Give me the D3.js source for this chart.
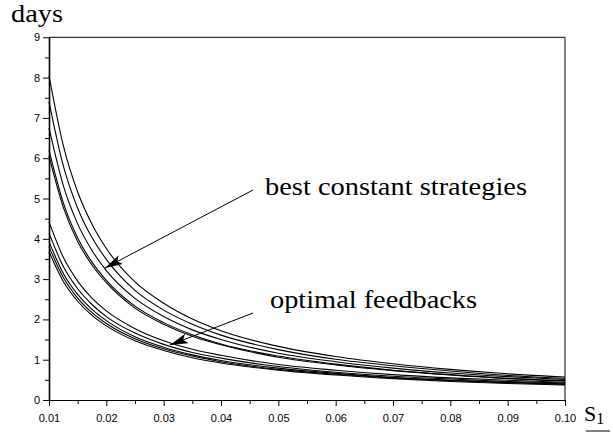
<!DOCTYPE html>
<html>
<head>
<meta charset="utf-8">
<script src="https://cdn.jsdelivr.net/npm/d3@7"></script>
<style>
  body { margin: 0; background: #fff; }
  .tick text { font-family: "Liberation Sans", Arial, Helvetica, sans-serif; font-size: 11px; fill: #000; }
  .serif { font-family: "Liberation Serif", "Times New Roman", Times, serif; fill: #000; }
</style>
</head>
<body>
<script>
// sampled S1 values
const sValues = [0.01, 0.0125, 0.015, 0.0175, 0.02, 0.025, 0.03, 0.035, 0.04, 0.05, 0.06, 0.07, 0.08, 0.09, 0.10];

// best constant strategies (days)
const bestConstant1 = [8.05, 6.31, 5.16, 4.36, 3.76, 2.93, 2.40, 2.01, 1.72, 1.33, 1.08, 0.90, 0.76, 0.65, 0.57];
const bestConstant2 = [7.40, 5.81, 4.76, 4.03, 3.49, 2.72, 2.23, 1.88, 1.61, 1.25, 1.01, 0.85, 0.72, 0.61, 0.54];
const bestConstant3 = [6.75, 5.32, 4.37, 3.71, 3.21, 2.52, 2.07, 1.74, 1.50, 1.16, 0.95, 0.79, 0.67, 0.58, 0.51];
const bestConstant4 = [6.20, 4.89, 4.02, 3.42, 2.97, 2.33, 1.92, 1.62, 1.39, 1.09, 0.89, 0.74, 0.63, 0.54, 0.48];
const bestConstant5 = [6.05, 4.78, 3.93, 3.35, 2.91, 2.28, 1.88, 1.58, 1.37, 1.06, 0.87, 0.73, 0.62, 0.53, 0.47];

// optimal feedbacks (days)
const optimalFeedback1 = [4.42, 3.54, 2.95, 2.53, 2.21, 1.77, 1.47, 1.26, 1.11, 0.88, 0.74, 0.63, 0.55, 0.49, 0.44];
const optimalFeedback2 = [4.14, 3.31, 2.76, 2.37, 2.07, 1.66, 1.38, 1.18, 1.04, 0.83, 0.69, 0.59, 0.52, 0.46, 0.42];
const optimalFeedback3 = [3.93, 3.14, 2.62, 2.25, 1.97, 1.57, 1.31, 1.12, 0.98, 0.79, 0.66, 0.56, 0.49, 0.44, 0.40];
const optimalFeedback4 = [3.80, 3.04, 2.53, 2.17, 1.90, 1.52, 1.27, 1.09, 0.95, 0.76, 0.64, 0.55, 0.48, 0.43, 0.39];
const optimalFeedback5 = [3.68, 2.94, 2.45, 2.10, 1.84, 1.47, 1.23, 1.05, 0.92, 0.74, 0.62, 0.53, 0.46, 0.41, 0.37];

const xTicks = [0.01, 0.02, 0.03, 0.04, 0.05, 0.06, 0.07, 0.08, 0.09, 0.10];
const xMinorTicks = [0.015, 0.025, 0.035, 0.045, 0.055, 0.065, 0.075, 0.085, 0.095];
const yTicks = [0, 1, 2, 3, 4, 5, 6, 7, 8, 9];
const yMinorTicks = [0.5, 1.5, 2.5, 3.5, 4.5, 5.5, 6.5, 7.5, 8.5];

const width = 613;
const height = 435;
const margin = { top: 37.3, right: 48, bottom: 35, left: 49 };

const svg = d3.select("body")
  .append("svg")
  .attr("width", width)
  .attr("height", height);

const x = d3.scaleLinear().domain([0.01, 0.10]).range([margin.left, width - margin.right]);
const y = d3.scaleLinear().domain([0, 9]).range([height - margin.bottom, margin.top]);

// frame: top and right
svg.append("path")
  .attr("fill", "none")
  .attr("stroke", "#000")
  .attr("stroke-width", 1)
  .attr("d", `M${x(0.01)},${y(9)}H${x(0.10)}V${y(0)}`);

// x axis
svg.append("g")
  .attr("transform", `translate(0,${y(0)})`)
  .call(d3.axisBottom(x).tickValues(xMinorTicks).tickSize(4).tickFormat(""))
  .call((g) => g.select(".domain").remove());

svg.append("g")
  .attr("transform", `translate(0,${y(0)})`)
  .call(d3.axisBottom(x).tickValues(xTicks).tickSize(6).tickSizeOuter(0).tickPadding(8).tickFormat(d3.format(".2f")))
  .call((g) => g.select(".domain").attr("stroke-width", 1.2));

// y axis
svg.append("g")
  .attr("transform", `translate(${x(0.01)},0)`)
  .call(d3.axisLeft(y).tickValues(yMinorTicks).tickSize(4).tickFormat(""))
  .call((g) => g.select(".domain").remove());

svg.append("g")
  .attr("transform", `translate(${x(0.01)},0)`)
  .call(d3.axisLeft(y).tickValues(yTicks).tickSize(6).tickSizeOuter(0).tickPadding(3))
  .call((g) => g.select(".domain").attr("stroke-width", 1.6));

// curves
const series = [
  bestConstant1, bestConstant2, bestConstant3, bestConstant4, bestConstant5,
  optimalFeedback1, optimalFeedback2, optimalFeedback3, optimalFeedback4, optimalFeedback5
];

const line = d3.line()
  .x((d, i) => x(sValues[i]))
  .y((d) => y(d))
  .curve(d3.curveMonotoneX);

svg.append("g")
  .attr("fill", "none")
  .attr("stroke", "#000")
  .attr("stroke-width", 1.1)
  .selectAll("path")
  .data(series)
  .join("path")
  .attr("d", line);

// arrows
svg.append("defs")
  .append("marker")
  .attr("id", "head")
  .attr("viewBox", "0 0 18 10")
  .attr("refX", 18)
  .attr("refY", 5)
  .attr("markerWidth", 18)
  .attr("markerHeight", 10)
  .attr("markerUnits", "userSpaceOnUse")
  .attr("orient", "auto")
  .append("path")
  .attr("d", "M0,0L18,5L0,10L4,5Z")
  .attr("fill", "#000");

const arrows = [
  { from: [253, 190], to: [105, 268] },
  { from: [253, 313], to: [170, 345] }
];

svg.append("g")
  .selectAll("line")
  .data(arrows)
  .join("line")
  .attr("x1", (d) => d.from[0])
  .attr("y1", (d) => d.from[1])
  .attr("x2", (d) => d.to[0])
  .attr("y2", (d) => d.to[1])
  .attr("stroke", "#000")
  .attr("stroke-width", 1)
  .attr("marker-end", "url(#head)");

// labels
svg.append("text")
  .attr("class", "serif")
  .attr("x", 11)
  .attr("y", 21.5)
  .attr("font-size", 26)
  .attr("textLength", 52)
  .attr("lengthAdjust", "spacingAndGlyphs")
  .text("days");

svg.append("text")
  .attr("class", "serif")
  .attr("x", 265)
  .attr("y", 195)
  .attr("font-size", 26)
  .attr("textLength", 262)
  .attr("lengthAdjust", "spacingAndGlyphs")
  .text("best constant strategies");

svg.append("text")
  .attr("class", "serif")
  .attr("x", 270)
  .attr("y", 308)
  .attr("font-size", 26)
  .attr("textLength", 207)
  .attr("lengthAdjust", "spacingAndGlyphs")
  .text("optimal feedbacks");

const sLabel = svg.append("text")
  .attr("class", "serif")
  .attr("x", 584)
  .attr("y", 421)
  .attr("font-size", 22);
sLabel.append("tspan").text("S");
sLabel.append("tspan").attr("font-size", 16).attr("dy", 3).text("1");

svg.append("line")
  .attr("x1", 586)
  .attr("x2", 610)
  .attr("y1", 431)
  .attr("y2", 431)
  .attr("stroke", "#000")
  .attr("stroke-width", 1);
</script>
</body>
</html>
